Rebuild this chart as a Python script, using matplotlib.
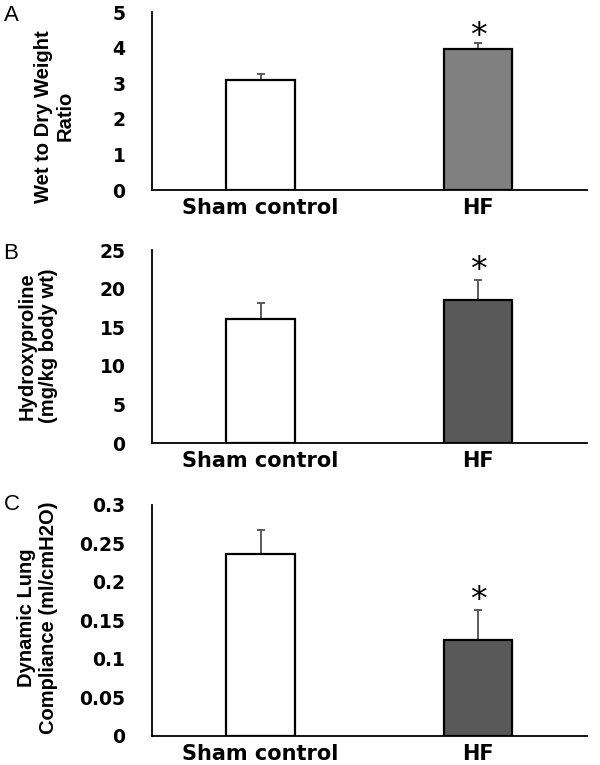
import matplotlib.pyplot as plt

groups = ['Sham control', 'HF']

# panel A - wet to dry weight ratio
wet_dry = [3.09, 3.96]
wet_dry_err = [0.17, 0.16]

# panel B - hydroxyproline
hyp = [16.06, 18.48]
hyp_err = [2.04, 2.59]

# panel C - dynamic lung compliance
comp = [0.236, 0.125]
comp_err = [0.032, 0.038]

panels = [
    ('A', 'Wet to Dry Weight\nRatio', wet_dry, wet_dry_err, '#808080',
     [0, 1, 2, 3, 4, 5], ['0', '1', '2', '3', '4', '5']),
    ('B', 'Hydroxyproline\n(mg/kg body wt)', hyp, hyp_err, '#595959',
     [0, 5, 10, 15, 20, 25], ['0', '5', '10', '15', '20', '25']),
    ('C', 'Dynamic Lung\nCompliance (ml/cmH2O)', comp, comp_err, '#595959',
     [0, 0.05, 0.1, 0.15, 0.2, 0.25, 0.3], ['0', '0.05', '0.1', '0.15', '0.2', '0.25', '0.3']),
]

# axes boxes in figure fraction [left, bottom, width, height]
boxes = [
    [0.253, 0.7516, 0.725, 0.2327],
    [0.253, 0.4209, 0.725, 0.2523],
    [0.253, 0.0383, 0.725, 0.3016],
]
letter_y = [0.980, 0.669, 0.340]
label_pos = [(0.091, 0.848), (0.063, 0.548), (0.0625, 0.192)]
star_off = [-2, 0, 0]

plt.rcParams['font.family'] = ['Liberation Sans', 'DejaVu Sans']
fig = plt.figure(figsize=(6, 7.65), dpi=100)

for i, (letter, ylab, vals, errs, hf_col, ticks, ticklabs) in enumerate(panels):
    ax = fig.add_axes(boxes[i])
    x = range(len(groups))
    ax.bar(x, vals, width=0.315, color=['white', hf_col], edgecolor='black',
           linewidth=1.6, zorder=2)
    ax.errorbar(x, vals, yerr=[[0] * len(errs), errs], fmt='none',
                ecolor='#5a5a5a', elinewidth=1.4, capsize=3, capthick=1.4, zorder=1)
    # significance marker above HF
    ax.annotate('*', xy=(1, vals[1] + errs[1]), xytext=(0, star_off[i]),
                textcoords='offset points', ha='center', va='baseline',
                fontsize=24, color='black', family='DejaVu Sans')
    ax.set_xlim(-0.5, 1.5)
    ax.set_ylim(ticks[0], ticks[-1])
    ax.set_yticks(ticks)
    ax.set_yticklabels(ticklabs, fontsize=13.5, fontweight='bold', family='DejaVu Sans')
    ax.set_xticks(list(x))
    ax.set_xticklabels(groups, fontsize=15, fontweight='bold', family='DejaVu Sans')
    ax.tick_params(axis='y', length=0, pad=19)
    ax.tick_params(axis='x', length=0, pad=6)
    for s in ['top', 'right']:
        ax.spines[s].set_visible(False)
    for s in ['left', 'bottom']:
        ax.spines[s].set_linewidth(1.3)
    fig.text(label_pos[i][0], label_pos[i][1], ylab, rotation=90,
             ha='center', va='center', fontsize=14.5, fontweight='bold',
             linespacing=1.15, multialignment='center')
    fig.text(0.006, letter_y[i], letter, fontsize=16, ha='left', va='center')

fig.savefig('out.png', dpi=100)
